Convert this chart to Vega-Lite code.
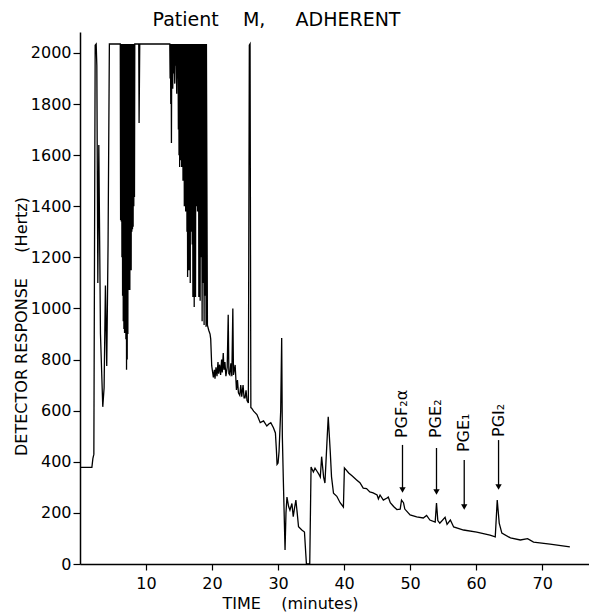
{
"$schema": "https://vega.github.io/schema/vega-lite/v6.json",
"width": 509, "height": 532,
"autosize": {"type": "none"},
"padding": {"left": 80, "top": 32, "right": 0, "bottom": 48},
"background": "white",
"config": {"view": {"stroke": null}, "font": "DejaVu Sans"},
"title": {"text": "Patient \u00a0 \u00a0M, \u00a0 \u00a0 ADHERENT", "fontSize": 19, "fontWeight": "normal", "anchor": "middle", "dx": -58, "dy": 19, "offset": 6, "baseline": "alphabetic", "color": "black", "font": "DejaVu Sans"},
"datasets": {
"trace": [
{"t":0,"v":378},{"t":1.8,"v":378},{"t":1.95,"v":412},{"t":2.1,"v":430},{"t":2.3,"v":2030},{"t":2.45,"v":2035},{"t":2.55,"v":1950},{"t":2.7,"v":1100},{"t":2.85,"v":1640},{"t":3.1,"v":900},{"t":3.45,"v":615},{"t":3.65,"v":690},{"t":3.85,"v":1090},{"t":4.05,"v":775},{"t":4.25,"v":1250},{"t":4.45,"v":2035},{"t":6.1,"v":2035},
{"t":6.15,"v":1346},{"t":6.2,"v":2035},{"t":6.25,"v":1340},{"t":6.3,"v":2035},{"t":6.35,"v":1200},{"t":6.4,"v":2035},{"t":6.45,"v":1050},{"t":6.5,"v":2035},{"t":6.55,"v":950},{"t":6.6,"v":2035},{"t":6.65,"v":920},{"t":6.7,"v":2035},{"t":6.75,"v":904},{"t":6.8,"v":2035},{"t":6.85,"v":950},{"t":6.9,"v":2035},{"t":6.95,"v":880},{"t":7.0,"v":2035},{"t":7.05,"v":760},{"t":7.1,"v":2035},{"t":7.15,"v":800},{"t":7.2,"v":2035},{"t":7.25,"v":900},{"t":7.3,"v":2035},{"t":7.35,"v":1072},{"t":7.4,"v":2035},{"t":7.45,"v":1100},{"t":7.5,"v":2035},{"t":7.55,"v":1072},{"t":7.6,"v":2035},{"t":7.65,"v":1295},{"t":7.7,"v":2035},{"t":7.75,"v":1150},{"t":7.8,"v":2035},{"t":7.85,"v":1300},{"t":7.9,"v":2035},{"t":7.95,"v":1310},{"t":8.0,"v":2035},{"t":8.05,"v":1320},{"t":8.1,"v":2035},{"t":8.15,"v":1400},{"t":8.2,"v":2035},{"t":8.25,"v":1436},{"t":8.3,"v":2035},{"t":8.9,"v":2035},{"t":8.95,"v":1726},{"t":9.05,"v":2035},{"t":13.6,"v":2035},
{"t":13.65,"v":1900},{"t":13.7,"v":2035},{"t":13.75,"v":1800},{"t":13.8,"v":2035},{"t":13.85,"v":1648},{"t":13.9,"v":2035},{"t":13.95,"v":1900},{"t":14.0,"v":2035},{"t":14.05,"v":1860},{"t":14.1,"v":2035},{"t":14.2,"v":1920},{"t":14.25,"v":2035},{"t":14.35,"v":1880},{"t":14.4,"v":2035},{"t":14.5,"v":1950},{"t":14.55,"v":2035},{"t":14.65,"v":1840},{"t":14.7,"v":2035},{"t":14.8,"v":1900},{"t":14.85,"v":2035},{"t":14.9,"v":1700},{"t":14.95,"v":2035},{"t":15.0,"v":1600},{"t":15.05,"v":2035},{"t":15.1,"v":1554},{"t":15.15,"v":2035},{"t":15.2,"v":1580},{"t":15.25,"v":2035},{"t":15.3,"v":1620},{"t":15.35,"v":2035},{"t":15.4,"v":1554},{"t":15.45,"v":2035},{"t":15.5,"v":1700},{"t":15.55,"v":2035},{"t":15.6,"v":1500},{"t":15.65,"v":2035},{"t":15.7,"v":1600},{"t":15.75,"v":2035},{"t":15.8,"v":1400},{"t":15.85,"v":2035},{"t":15.9,"v":1450},{"t":15.95,"v":2035},{"t":16.0,"v":1380},{"t":16.05,"v":2035},{"t":16.1,"v":1500},{"t":16.15,"v":2035},{"t":16.2,"v":1300},{"t":16.25,"v":2035},{"t":16.3,"v":1123},{"t":16.35,"v":2035},{"t":16.4,"v":1200},{"t":16.45,"v":2035},{"t":16.5,"v":1150},{"t":16.55,"v":2035},{"t":16.6,"v":1250},{"t":16.65,"v":2035},{"t":16.7,"v":1100},{"t":16.75,"v":2035},{"t":16.8,"v":1300},{"t":16.85,"v":2035},{"t":16.9,"v":1400},{"t":16.95,"v":2035},{"t":17.0,"v":1250},{"t":17.05,"v":2035},{"t":17.1,"v":1045},{"t":17.15,"v":2035},{"t":17.2,"v":1100},{"t":17.25,"v":2035},{"t":17.3,"v":1006},{"t":17.35,"v":2035},{"t":17.4,"v":1200},{"t":17.45,"v":2035},{"t":17.5,"v":1045},{"t":17.55,"v":2035},{"t":17.6,"v":1400},{"t":17.65,"v":2035},{"t":17.7,"v":1500},{"t":17.75,"v":2035},{"t":17.8,"v":1380},{"t":17.85,"v":2035},{"t":17.9,"v":1500},{"t":17.95,"v":2035},{"t":18.0,"v":1045},{"t":18.05,"v":2035},{"t":18.1,"v":1300},{"t":18.15,"v":2035},{"t":18.2,"v":1030},{"t":18.25,"v":2035},{"t":18.35,"v":1200},{"t":18.4,"v":2035},{"t":18.5,"v":950},{"t":18.55,"v":2035},{"t":18.65,"v":1100},{"t":18.7,"v":2035},{"t":18.8,"v":935},{"t":18.85,"v":2035},{"t":18.95,"v":1050},{"t":19.0,"v":2035},{"t":19.1,"v":928},{"t":19.15,"v":2035},
{"t":19.3,"v":935},{"t":19.5,"v":915},{"t":19.7,"v":900},{"t":19.8,"v":880},{"t":19.95,"v":776},{"t":20.2,"v":730},{"t":20.35,"v":760},{"t":20.45,"v":725},{"t":20.6,"v":770},{"t":20.75,"v":735},{"t":20.9,"v":790},{"t":21.0,"v":745},{"t":21.15,"v":780},{"t":21.3,"v":740},{"t":21.45,"v":800},{"t":21.55,"v":750},{"t":21.7,"v":826},{"t":21.8,"v":760},{"t":21.95,"v":790},{"t":22.1,"v":735},{"t":22.3,"v":770},{"t":22.45,"v":975},{"t":22.55,"v":745},{"t":22.7,"v":740},{"t":22.85,"v":785},{"t":23.0,"v":735},{"t":23.15,"v":1000},{"t":23.25,"v":740},{"t":23.5,"v":779},{"t":23.7,"v":681},{"t":23.85,"v":720},{"t":24.0,"v":670},{"t":24.2,"v":660},{"t":24.35,"v":700},{"t":24.5,"v":655},{"t":24.7,"v":700},{"t":24.85,"v":650},{"t":25.0,"v":650},{"t":25.15,"v":680},{"t":25.3,"v":640},{"t":25.5,"v":630},{"t":25.65,"v":2030},{"t":25.76,"v":2035},{"t":25.88,"v":612},{"t":26.0,"v":610},{"t":26.3,"v":598},{"t":26.8,"v":585},{"t":27.3,"v":553},{"t":27.8,"v":560},{"t":28.3,"v":540},{"t":28.6,"v":548},{"t":28.9,"v":553},{"t":29.3,"v":533},{"t":29.6,"v":513},{"t":29.75,"v":446},{"t":29.85,"v":390},{"t":30.0,"v":395},{"t":30.15,"v":440},{"t":30.4,"v":600},{"t":30.55,"v":884},{"t":30.65,"v":500},{"t":30.8,"v":329},{"t":31.06,"v":55},{"t":31.2,"v":200},{"t":31.35,"v":262},{"t":31.6,"v":225},{"t":31.8,"v":211},{"t":32.1,"v":237},{"t":32.3,"v":185},{"t":32.5,"v":220},{"t":32.7,"v":250},{"t":32.9,"v":200},{"t":33.1,"v":146},{"t":33.6,"v":133},{"t":34.0,"v":125},{"t":34.2,"v":40},{"t":34.3,"v":0},{"t":34.8,"v":0},{"t":35.0,"v":380},{"t":35.35,"v":360},{"t":35.6,"v":375},{"t":35.85,"v":365},{"t":36.1,"v":355},{"t":36.4,"v":340},{"t":36.6,"v":420},{"t":36.9,"v":340},{"t":37.1,"v":317},{"t":37.4,"v":473},{"t":37.6,"v":576},{"t":37.9,"v":443},{"t":38.1,"v":341},{"t":38.4,"v":277},{"t":38.9,"v":265},{"t":39.4,"v":240},{"t":39.9,"v":223},{"t":40.05,"v":376},{"t":40.7,"v":356},{"t":41.2,"v":345},{"t":41.9,"v":329},{"t":42.4,"v":318},{"t":42.9,"v":297},{"t":43.4,"v":295},{"t":43.9,"v":282},{"t":44.4,"v":278},{"t":45.0,"v":270},{"t":45.2,"v":255},{"t":45.45,"v":270},{"t":45.95,"v":250},{"t":46.5,"v":258},{"t":46.7,"v":262},{"t":47.0,"v":240},{"t":47.5,"v":225},{"t":48.0,"v":213},{"t":48.5,"v":215},{"t":48.7,"v":250},{"t":49.0,"v":240},{"t":49.2,"v":215},{"t":50.0,"v":192},{"t":51.0,"v":184},{"t":52.0,"v":180},{"t":52.5,"v":190},{"t":53.0,"v":172},{"t":53.8,"v":164},{"t":54.0,"v":239},{"t":54.2,"v":170},{"t":54.5,"v":160},{"t":55.3,"v":183},{"t":55.6,"v":155},{"t":56.1,"v":172},{"t":56.6,"v":145},{"t":58.1,"v":133},{"t":60.1,"v":125},{"t":62.1,"v":113},{"t":62.9,"v":106},{"t":63.2,"v":250},{"t":63.5,"v":160},{"t":63.9,"v":121},{"t":65.2,"v":102},{"t":66.7,"v":94},{"t":67.8,"v":99},{"t":68.7,"v":86},{"t":71.2,"v":78},{"t":74.2,"v":67}
],
"notes": [
{"label":"PGF₂α","t":48.85,"textv":493,"top":466,"tip":290},
{"label":"PGE₂","t":54.0,"textv":493,"top":454,"tip":282},
{"label":"PGE₁","t":58.2,"textv":438,"top":407,"tip":223},
{"label":"PGI₂","t":63.4,"textv":497,"top":485,"tip":301}
]
},
"layer": [
{"data": {"name": "trace"},
 "mark": {"type": "line", "color": "black", "strokeWidth": 1.3},
 "encoding": {
  "x": {"field": "t", "type": "quantitative", "scale": {"domain": [0, 77.1], "nice": false, "zero": false},
   "axis": {"values": [10,20,30,40,50,60,70], "format": "d", "title": "TIME \u00a0 \u00a0(minutes)", "grid": false, "domainColor": "black", "domainWidth": 1.5, "tickColor": "black", "tickWidth": 1.2, "tickSize": 6, "labelPadding": 5, "labelFontSize": 16, "labelColor": "black", "labelFont": "DejaVu Sans", "titleFont": "DejaVu Sans", "titleFontSize": 16, "titleFontWeight": "normal", "titleColor": "black", "titleX": 210, "titleY": 39, "titleAlign": "center", "titleBaseline": "middle"}},
  "y": {"field": "v", "type": "quantitative", "scale": {"domain": [0, 2082], "nice": false},
   "axis": {"values": [0,200,400,600,800,1000,1200,1400,1600,1800,2000], "format": "d", "title": "DETECTOR RESPONSE \u00a0 \u00a0 (Hertz)", "grid": false, "domainColor": "black", "domainWidth": 1.5, "tickColor": "black", "tickWidth": 1.2, "tickSize": 7, "labelPadding": 2, "labelFontSize": 16, "labelColor": "black", "labelFont": "DejaVu Sans", "titleFont": "DejaVu Sans", "titleFontSize": 16, "titleFontWeight": "normal", "titleColor": "black", "titleX": -59, "titleY": 294, "titleAlign": "center", "titleBaseline": "middle", "titleAngle": 270}}
 }},
{"data": {"name": "notes"},
 "mark": {"type": "rule", "color": "black", "strokeWidth": 1.3},
 "encoding": {"x": {"field": "t", "type": "quantitative"}, "y": {"field": "top", "type": "quantitative"}, "y2": {"field": "tip"}}},
{"data": {"name": "notes"},
 "mark": {"type": "point", "shape": "triangle-down", "filled": true, "color": "black", "size": 40, "opacity": 1},
 "encoding": {"x": {"field": "t", "type": "quantitative"}, "y": {"field": "tip", "type": "quantitative"}}},
{"data": {"name": "notes"},
 "mark": {"type": "text", "angle": 270, "align": "left", "baseline": "middle", "fontSize": 16, "font": "DejaVu Sans", "color": "black"},
 "encoding": {"x": {"field": "t", "type": "quantitative"}, "y": {"field": "textv", "type": "quantitative"}, "text": {"field": "label"}}}
]
}
